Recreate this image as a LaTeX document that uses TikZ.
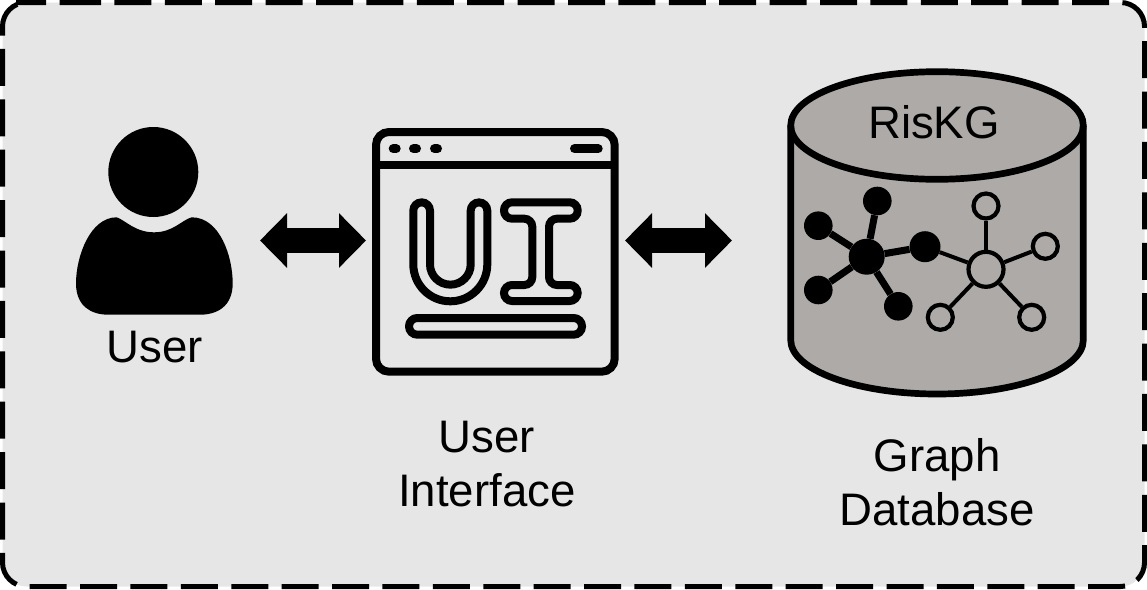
\documentclass[tikz,border=0pt]{standalone}
\usepackage{fontspec}
\setmainfont{Liberation Sans}
\usetikzlibrary{arrows.meta}
\definecolor{panelgray}{HTML}{E6E6E6}
\definecolor{dbgray}{HTML}{AEAAA8}
\tikzset{
  bigtext/.style={font=\fontsize{45.6}{54}\selectfont, align=center, text=black, inner sep=0pt},
  iconline/.style={draw=black, line width=8pt},
  dots/.style={draw=black, line width=9pt, line cap=round},
  duplex/.style={line width=25pt, {Triangle[length=27pt,width=53pt]}-{Triangle[length=27pt,width=53pt]}},
  blacknode/.style={circle, fill=black, inner sep=0pt},
  whitenode/.style={circle, draw=black, fill=dbgray, line width=4.2pt, inner sep=0pt},
  thickedge/.style={draw=black, line width=7pt},
  thinedge/.style={draw=black, line width=4pt},
}
\begin{document}
\begin{tikzpicture}[x=1pt,y=1pt,yscale=-1]
\useasboundingbox (0,0) rectangle (1147,589);
% panel
\fill[panelgray, rounded corners=24pt] (2.5,2.5) rectangle (1144.5,586.5);
\draw[black, line width=5pt, rounded corners=24pt, dash pattern=on 37pt off 13.4pt]
  (40,2.5) -- (1144.5,2.5) -- (1144.5,586.5) -- (2.5,586.5) -- (2.5,2.5) -- cycle;
% user icon
\fill[black] (153.3,172) circle[radius=45pt];
\fill[black] (154,232.3)
  .. controls (173.3,232.3) and (181.7,220) .. (191.7,217.3)
  .. controls (220,217.3) and (232.7,256.7) .. (232.7,283.3)
  .. controls (232.7,306.7) and (216.7,314.7) .. (200,314.7)
  -- (108.3,314.7)
  .. controls (91.7,314.7) and (76,306.7) .. (76,283.3)
  .. controls (76,256.7) and (90,217.3) .. (116.7,217.3)
  .. controls (125,220) and (135,232.3) .. (154,232.3) -- cycle;
\node[bigtext] (userlabel) at (155,347) {User};
% UI icon
\draw[iconline, rounded corners=13pt] (376,132) rectangle (614.7,371.7);
\draw[iconline] (376,165) -- (614.7,165);
\draw[dots] (393.2,148.7) -- (396.2,148.7);
\draw[dots] (413.5,148.7) -- (416.5,148.7);
\draw[dots] (434.5,148.7) -- (437.5,148.7);
\draw[dots] (574.5,148.7) -- (598.2,148.7);
\draw[iconline] (413.3,264.3) -- (413.3,210.7) arc[start angle=180,end angle=360,radius=8.35pt]
  -- (430,264.3) arc[start angle=180,end angle=0,radius=20.35pt]
  -- (470.7,210.7) arc[start angle=180,end angle=360,radius=8.3pt]
  -- (487.3,264.3) arc[start angle=0,end angle=180,radius=37pt] -- cycle;
\draw[iconline, rounded corners=8pt] (532.3,218.7) -- (504,218.7) -- (504,202.3) -- (577.7,202.3)
  -- (577.7,218.7) -- (549,218.7) -- (549,285) -- (577.7,285) -- (577.7,301) -- (504,301)
  -- (504,285) -- (532.3,285) -- cycle;
\draw[iconline, rounded corners=8.3pt] (409,318) rectangle (582,334.7);
\node[bigtext] (uilabel) at (487,464) {User\\Interface};
% database
\fill[dbgray] (790.7,125.5) -- (790.7,340) arc[start angle=180,end angle=0,x radius=146.3pt,y radius=54pt]
  -- (1083.3,125.5) arc[start angle=0,end angle=-180,x radius=146.3pt,y radius=53.8pt] -- cycle;
\draw[black, line width=6.7pt]
  (790.7,125.5) -- (790.7,340) arc[start angle=180,end angle=0,x radius=146.3pt,y radius=54pt]
  -- (1083.3,125.5);
\draw[black, line width=6.7pt] (937,125.5) ellipse[x radius=146.3pt,y radius=53.8pt];
\node[bigtext] (dbname) at (934,122) {RisKG};
\node[bigtext] (dblabel) at (937,482) {Graph\\Database};
% graph
\node[blacknode, minimum size=36pt] (bh) at (866.7,256.7) {};
\node[blacknode, minimum size=28.6pt] (b1) at (877.3,201) {};
\node[blacknode, minimum size=28.6pt] (b2) at (818.3,225.7) {};
\node[blacknode, minimum size=28.6pt] (b3) at (818.3,290) {};
\node[blacknode, minimum size=28.6pt] (b4) at (898.3,306.3) {};
\node[blacknode, minimum size=31pt] (b5) at (925,246.7) {};
\node[whitenode, minimum size=35pt] (wh) at (986,269.3) {};
\node[whitenode, minimum size=25pt] (w1) at (986,206) {};
\node[whitenode, minimum size=25pt] (w2) at (1045.3,246.3) {};
\node[whitenode, minimum size=25pt] (w3) at (940.3,317.3) {};
\node[whitenode, minimum size=25pt] (w4) at (1031.7,317.3) {};
\foreach \t in {b1,b2,b3,b4,b5} \draw[thickedge] (bh) -- (\t);
\foreach \t in {w1,w2,w3,w4,b5} \draw[thinedge] (wh) -- (\t);
% connectors
\coordinate (a1s) at (260,240.5);
\coordinate (a1e) at (366,240.5);
\coordinate (a2s) at (625,240.5);
\coordinate (a2e) at (732,240.5);
\draw[duplex] (a1s) -- (a1e);
\draw[duplex] (a2s) -- (a2e);
\end{tikzpicture}
\end{document}
